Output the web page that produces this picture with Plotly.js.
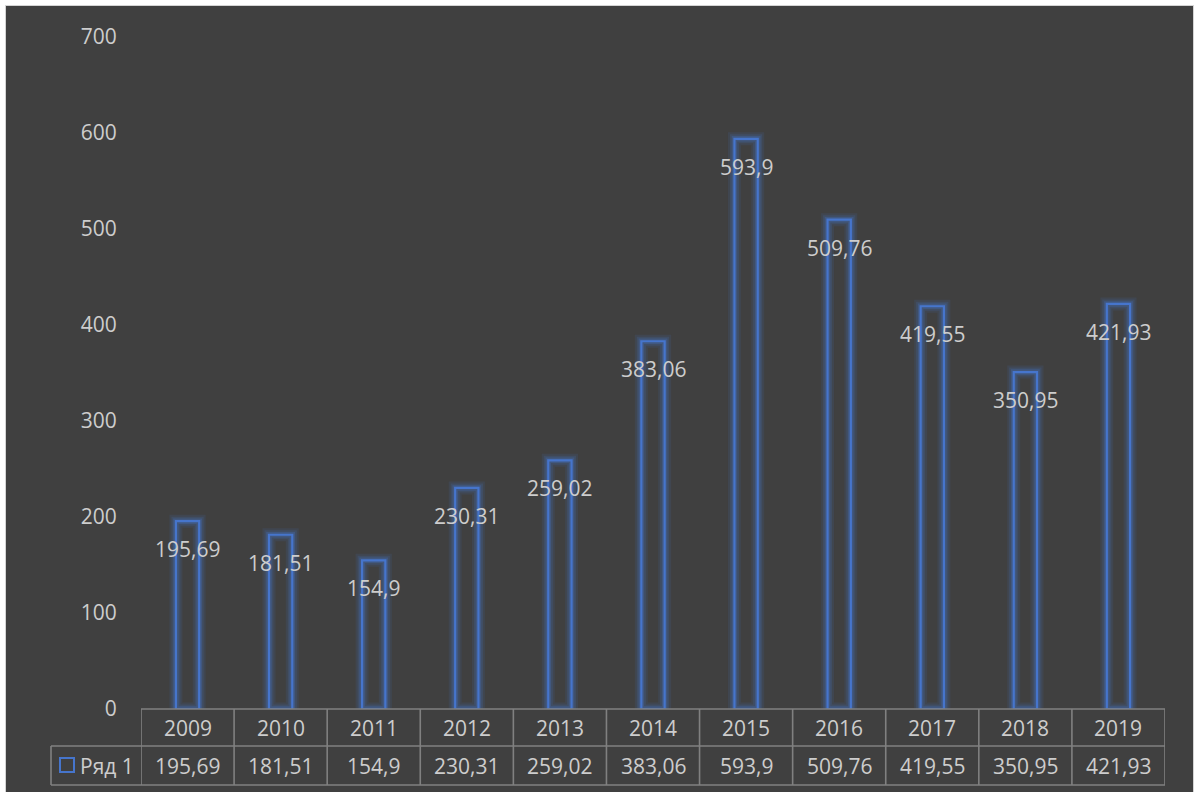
<!DOCTYPE html>
<html>
<head>
<meta charset="utf-8">
<script src="https://cdn.plot.ly/plotly-3.0.1.min.js"></script>
<style>
  html, body { margin: 0; padding: 0; background: #ffffff; width: 1198px; height: 792px; overflow: hidden; }
  #chart { position: absolute; left: 5px; top: 5px; width: 1187px; height: 787px; border-left: 1px solid #d4d4d4; border-top: 1px solid #d4d4d4; border-right: 1px solid #d4d4d4; }
</style>
</head>
<body>
<div id="chart"></div>
<script>
// ---- data ----
const years = ["2009", "2010", "2011", "2012", "2013", "2014", "2015", "2016", "2017", "2018", "2019"];
const values = [195.69, 181.51, 154.9, 230.31, 259.02, 383.06, 593.9, 509.76, 419.55, 350.95, 421.93];
const seriesName = "Ряд 1";
const yTicks = [0, 100, 200, 300, 400, 500, 600, 700];

// ---- style / layout constants ----
const W = 1187, H = 786;
const M = { l: 135, r: 28, t: 31, b: 83 };
const plotW = W - M.l - M.r;
const BG = "#404040";
const TXT = "#cdcdcd";
const BLUE = "#4675cc";
const GRID = "#808080";
const FONT = "Open Sans, Noto Sans, sans-serif";
const FS = 21;
const legendLeftPx = -90;       // legend cell left edge relative to plot left
const rowHeader = 37;           // header row height (px)
const rowBottom = 76;           // bottom of table (px below axis)
const fmt = v => String(v).replace(".", ",");

const barBase = {
  type: "bar", x: years, y: values, width: 0.25,
  hoverinfo: "skip", showlegend: false,
};
const traces = [
  Object.assign({}, barBase, { marker: { color: "rgba(0,0,0,0)", line: { color: "rgba(68,114,196,0.12)", width: 13 } } }),
  Object.assign({}, barBase, { marker: { color: "rgba(0,0,0,0)", line: { color: "rgba(68,114,196,0.18)", width: 9 } } }),
  Object.assign({}, barBase, { marker: { color: "rgba(0,0,0,0)", line: { color: "rgba(68,114,196,0.30)", width: 5.5 } } }),
  Object.assign({}, barBase, { marker: { color: "rgba(0,0,0,0)", line: { color: BLUE, width: 2.2 } }, name: seriesName }),
];

const annotations = [];
const shapes = [];
const lineStyle = { color: GRID, width: 1.6 };

// category positions on the category axis are their serial numbers
years.forEach((yr, i) => {
  // data labels (inside end)
  annotations.push({
    x: i, y: values[i], xref: "x", yref: "y", text: fmt(values[i]),
    showarrow: false, yanchor: "middle", xanchor: "center", yshift: -28,
    font: { family: FONT, size: FS, color: TXT },
  });
  // header row (years)
  annotations.push({
    x: i, y: 0, xref: "x", yref: "paper", text: yr,
    showarrow: false, yanchor: "middle", xanchor: "center", yshift: -19,
    font: { family: FONT, size: FS, color: TXT },
  });
  // value row
  annotations.push({
    x: i, y: 0, xref: "x", yref: "paper", text: fmt(values[i]),
    showarrow: false, yanchor: "middle", xanchor: "center", yshift: -57,
    font: { family: FONT, size: FS, color: TXT },
  });
});

// legend key text
annotations.push({
  x: legendLeftPx / plotW, y: 0, xref: "paper", yref: "paper", text: seriesName,
  showarrow: false, xanchor: "left", yanchor: "middle", xshift: 27, yshift: -57,
  font: { family: FONT, size: FS, color: TXT },
});

// table lines
shapes.push({ type: "line", xref: "x", yref: "paper", ysizemode: "pixel", yanchor: 0,
  x0: -0.5, x1: years.length - 0.5, y0: 0, y1: 0, line: lineStyle });
[rowHeader, rowBottom].forEach(px => {
  shapes.push({ type: "line", xref: "paper", yref: "paper", ysizemode: "pixel", yanchor: 0,
    x0: legendLeftPx / plotW, x1: 1, y0: -px, y1: -px, line: lineStyle });
});
for (let i = 0; i <= years.length; i++) {
  shapes.push({ type: "line", xref: "x", yref: "paper", ysizemode: "pixel", yanchor: 0,
    x0: i - 0.5, x1: i - 0.5, y0: 0, y1: -rowBottom, line: lineStyle });
}
shapes.push({ type: "line", xref: "paper", yref: "paper", ysizemode: "pixel", yanchor: 0,
  x0: legendLeftPx / plotW, x1: legendLeftPx / plotW, y0: -rowHeader, y1: -rowBottom, line: lineStyle });
// legend key square
shapes.push({ type: "rect", xref: "paper", yref: "paper", xsizemode: "pixel", ysizemode: "pixel",
  xanchor: legendLeftPx / plotW, yanchor: 0, x0: 9, x1: 23, y0: -49, y1: -63,
  line: { color: BLUE, width: 2 }, fillcolor: "rgba(0,0,0,0)" });

const layout = {
  width: W, height: H,
  margin: M,
  paper_bgcolor: BG, plot_bgcolor: BG,
  barmode: "overlay",
  showlegend: false,
  hovermode: false,
  xaxis: {
    type: "category", range: [-0.5, years.length - 0.5],
    showticklabels: false, showgrid: false, zeroline: false, showline: false, ticks: "",
    fixedrange: true,
  },
  yaxis: {
    range: [0, 700], tickvals: yTicks, ticktext: yTicks.map(String),
    showgrid: false, zeroline: false, showline: false,
    ticks: "outside", ticklen: 19, tickcolor: "rgba(0,0,0,0)",
    tickfont: { family: FONT, size: FS, color: TXT },
    fixedrange: true,
  },
  annotations: annotations,
  shapes: shapes,
  font: { family: FONT, color: TXT },
};

Plotly.newPlot("chart", traces, layout, { staticPlot: true, displayModeBar: false });
</script>
</body>
</html>
